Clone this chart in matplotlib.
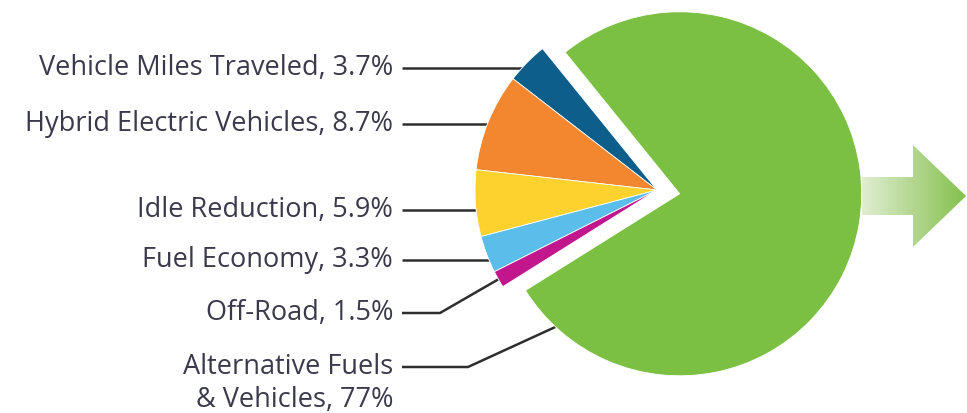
import numpy as np
import matplotlib
matplotlib.use("Agg")
import matplotlib.pyplot as plt
from matplotlib.patches import Polygon

# ---- data ----
categories = ["Vehicle Miles Traveled", "Hybrid Electric Vehicles", "Idle Reduction",
              "Fuel Economy", "Off-Road", "Alternative Fuels\n& Vehicles"]
values = [3.7, 8.7, 5.9, 3.3, 1.5, 77]
value_labels = ["3.7%", "8.7%", "5.9%", "3.3%", "1.5%", "77%"]
colors = ["#0E5E8B", "#F2872F", "#FDD22F", "#5BBDEA", "#C2168D", "#7BC043"]

W, H = 967, 413
fig = plt.figure(figsize=(W / 100, H / 100), dpi=100)
ax = fig.add_axes([0, 0, 1, 1])

def Y(yi):
    return H - yi

cx, cy, R = 657, Y(190), 182
explode = [0, 0, 0, 0, 0, 23]
wedges, _ = ax.pie(values, colors=colors, startangle=129, counterclock=True,
                   center=(cx, cy), radius=R, explode=explode,
                   wedgeprops=dict(edgecolor="white", linewidth=0.6), frame=False)
for w in wedges:
    w.set_zorder(3)
ax.set_xlim(0, W)
ax.set_ylim(0, H)
ax.set_aspect("equal")
ax.axis("off")

# ---- gradient arrow ----
arrow_pts = [(850, Y(177)), (913, Y(177)), (913, Y(145)), (966, Y(196)),
             (913, Y(247)), (913, Y(215)), (850, Y(215))]
poly = Polygon(arrow_pts, closed=True, facecolor="none", edgecolor="none")
ax.add_patch(poly)
grad = np.linspace(0, 1, 256).reshape(1, -1)
c0 = np.array([224, 238, 210]) / 255
c1 = np.array([132, 192, 76]) / 255
img = c0[None, None, :] * (1 - grad[..., None]) + c1[None, None, :] * grad[..., None]
im = ax.imshow(img, extent=[862, 966, Y(247), Y(145)], aspect="auto", zorder=1,
               interpolation="bilinear")
im.set_clip_path(poly)

# ---- labels & leader lines ----
label_y = [68, 124, 210, 260, 313, 367]
text_x = 393
line_x0 = 402
tcol = "#3A3A4C"
lcol = "#2E2E2E"
font = dict(family=["Open Sans", "DejaVu Sans"], fontsize=19.5, color=tcol)

for i, (cat, vl) in enumerate(zip(categories, value_labels)):
    yy = Y(label_y[i])
    if i == 5:
        l1, l2 = cat.split("\n")
        ax.text(text_x, yy, l1, ha="right", va="center", **font)
        ax.text(text_x, yy - 33, f"{l2}, {vl}", ha="right", va="center", **font)
    else:
        ax.text(text_x, yy, f"{cat}, {vl}", ha="right", va="center", **font)

    w = wedges[i]
    wcx, wcy = w.center
    if i < 4:
        dy = yy - wcy
        xe = wcx - np.sqrt(R ** 2 - dy ** 2)
        ax.plot([line_x0, xe], [yy, yy], color=lcol, lw=1.8, zorder=2,
                solid_capstyle="butt")
    else:
        if i == 4:
            ang = np.deg2rad(0.5 * (w.theta1 + w.theta2))
            elbow = 440
        else:
            ang = np.deg2rad(227)
            elbow = 468
        xe = wcx + R * np.cos(ang)
        ye = wcy + R * np.sin(ang)
        ax.plot([line_x0, elbow, xe], [yy, yy, ye], color=lcol, lw=1.8, zorder=2,
                solid_capstyle="butt")

fig.savefig("out.png", dpi=100)
